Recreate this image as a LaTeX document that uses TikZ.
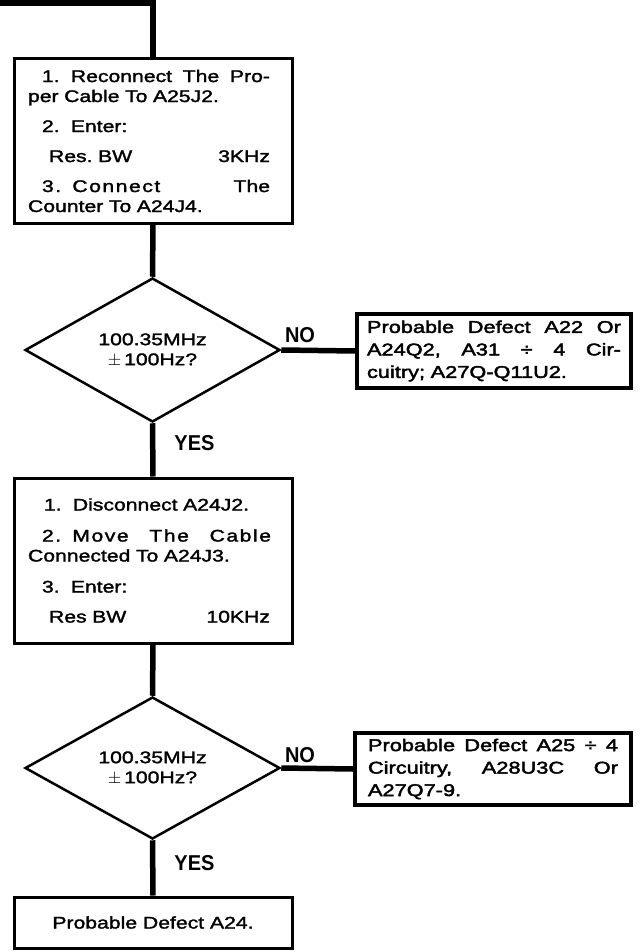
\documentclass[tikz,border=0pt]{standalone}
\usepackage{fontspec}
\setmainfont[FakeStretch=1.26,FakeBold=1.8]{Liberation Sans}
\newfontfamily\rightfont[FakeStretch=1.28,FakeBold=2.5]{Liberation Sans}
\newfontfamily\lblfont[FakeStretch=0.93]{Liberation Sans}
\usetikzlibrary{shapes.geometric}
\newcommand{\jl}[2]{\makebox[#1][l]{#2}}
\newcommand{\spaced}[1]{{\addfontfeature{LetterSpace=9}#1}}
\begin{document}
\begin{tikzpicture}[x=1pt,y=-1pt,
  procbox/.style={draw,line width=3pt,rectangle,inner sep=0pt,align=left,
    font=\fontsize{16.8pt}{20pt}\selectfont},
  decbox/.style={draw,line width=2.5pt,diamond,inner sep=0pt,align=center,
    minimum width=255pt,font=\fontsize{16.8pt}{20pt}\selectfont},
  flowline/.style={line width=5.5pt,line join=miter},
  yesno/.style={font=\lblfont\bfseries\fontsize{21.5pt}{24pt}\selectfont,inner sep=0pt}]
\useasboundingbox (0,0) rectangle (644,952);

% left column
\node[procbox,minimum width=278pt,minimum height=164pt,text width=250pt] (b1) at (153,141) {%
\jl{242pt}{\hspace*{14pt}1.\ \ Reconnect\hfill The\hfill Pro-}\\
per Cable To A25J2.\\[10pt]
\hspace*{14pt}2.\ \ Enter:\\[10pt]
\jl{242pt}{\hspace*{21pt}Res.\ BW\hfill 3KHz}\\[10pt]
\jl{242pt}{\hspace*{14pt}\spaced{3.\ \ Connect}\hfill The}\\
Counter To A24J4.};

\node[decbox,minimum height=144pt] (d1) at (152.5,350) {100.35MHz\\$\pm$\,100Hz?};

\node[procbox,minimum width=278pt,minimum height=165pt,text width=250pt] (b3) at (153,560.5) {%
\hspace*{16pt}1.\ \ Disconnect A24J2.\\[11pt]
\jl{243pt}{\hspace*{14pt}\spaced{2.\ \ Move}\hfill\spaced{The}\hfill\spaced{Cable}}\\
Connected To A24J3.\\[11pt]
\hspace*{14pt}3.\ \ Enter:\\[10pt]
\jl{242pt}{\hspace*{21pt}Res BW\hfill 10KHz}};

\node[decbox,minimum height=142pt] (d2) at (152.5,768) {100.35MHz\\$\pm$\,100Hz?};

\node[procbox,minimum width=278pt,minimum height=51pt,align=center] (b5) at (153,922.5) {Probable Defect A24.};

% right column
\node[procbox,line width=3.5pt,minimum width=274pt,minimum height=74pt,text width=254pt,
  font=\rightfont\fontsize{17pt}{22.5pt}\selectfont] (b2) at (494,351) {%
\jl{254pt}{Probable\hfill Defect\hfill A22\hfill Or}\\
\jl{254pt}{A24Q2,\hfill A31\hfill ÷\hfill 4\hfill Cir-}\\
cuitry; A27Q-Q11U2.};

\node[procbox,line width=3.5pt,minimum width=276pt,minimum height=72pt,text width=250pt,
  font=\rightfont\fontsize{17pt}{22.5pt}\selectfont] (b4) at (493,769) {%
\jl{250pt}{Probable\hfill Defect\hfill A25\hfill ÷\hfill 4}\\
\jl{250pt}{Circuitry,\hfill A28U3C\hfill Or}\\
A27Q7-9.};

% labels
\node[yesno] (no1) at (300,335) {NO};
\node[yesno] (yes1) at (194.5,443) {YES};
\node[yesno] (no2) at (300,755) {NO};
\node[yesno] (yes2) at (194.5,863) {YES};

% connectors
\coordinate (start) at (0,3);
\draw[flowline] (start) -| (b1.north);
\draw[flowline] (b1.south) -- (d1.north);
\draw[flowline] (d1.south) -- (b3.north);
\draw[flowline] (b3.south) -- (d2.north);
\draw[flowline] (d2.south) -- (b5.north);
\draw[flowline] (d1.east) -- (b2.west);
\draw[flowline] (d2.east) -- (b4.west);
\end{tikzpicture}
\end{document}
